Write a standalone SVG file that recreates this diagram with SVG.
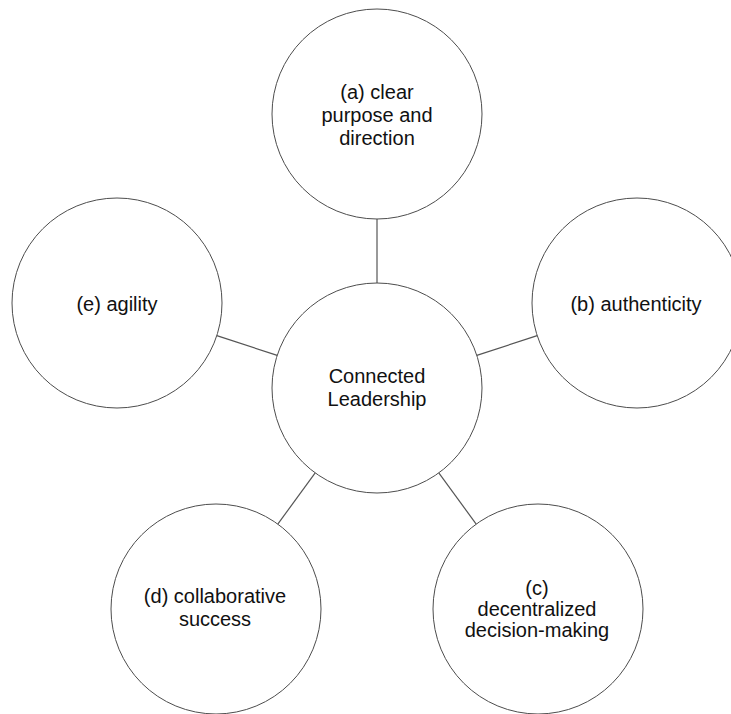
<svg xmlns="http://www.w3.org/2000/svg" width="731" height="714" viewBox="0 0 731 714">
  <style>
    .node circle { fill: #ffffff; stroke: #4d4d4d; stroke-width: 1; }
    .node text { font-family: "Liberation Sans", Arial, sans-serif; font-size: 20px; fill: #111111; text-anchor: middle; }
    .links line { stroke: #555555; stroke-width: 1.2; }
  </style>
  <rect width="731" height="714" fill="#ffffff"/>

  <!-- spokes from the hub to each outer circle -->
  <g id="connectors" class="links">
    <line x1="377" y1="219" x2="377" y2="283"/>
    <line x1="476.8" y1="355.4" x2="537.2" y2="335.6"/>
    <line x1="277.2" y1="355.4" x2="216.8" y2="335.6"/>
    <line x1="315.2" y1="472.9" x2="277.8" y2="524.1"/>
    <line x1="438.8" y1="472.9" x2="476.2" y2="524.1"/>
  </g>

  <g id="hub" class="node">
    <circle cx="377" cy="388" r="105"/>
    <text x="377" y="383">Connected</text>
    <text x="377" y="406">Leadership</text>
  </g>

  <g id="node-a" class="node">
    <circle cx="377" cy="114" r="105"/>
    <text x="377" y="99">(a) clear</text>
    <text x="377" y="122">purpose and</text>
    <text x="377" y="145">direction</text>
  </g>

  <g id="node-b" class="node">
    <circle cx="637" cy="303" r="105"/>
    <text x="636" y="311">(b) authenticity</text>
  </g>

  <g id="node-e" class="node">
    <circle cx="117" cy="303" r="105"/>
    <text x="117" y="311">(e) agility</text>
  </g>

  <g id="node-d" class="node">
    <circle cx="216" cy="609" r="105"/>
    <text x="215" y="603">(d) collaborative</text>
    <text x="215" y="626">success</text>
  </g>

  <g id="node-c" class="node">
    <circle cx="538" cy="609" r="105"/>
    <text x="537" y="595">(c)</text>
    <text x="537" y="616">decentralized</text>
    <text x="537" y="637">decision-making</text>
  </g>
</svg>
